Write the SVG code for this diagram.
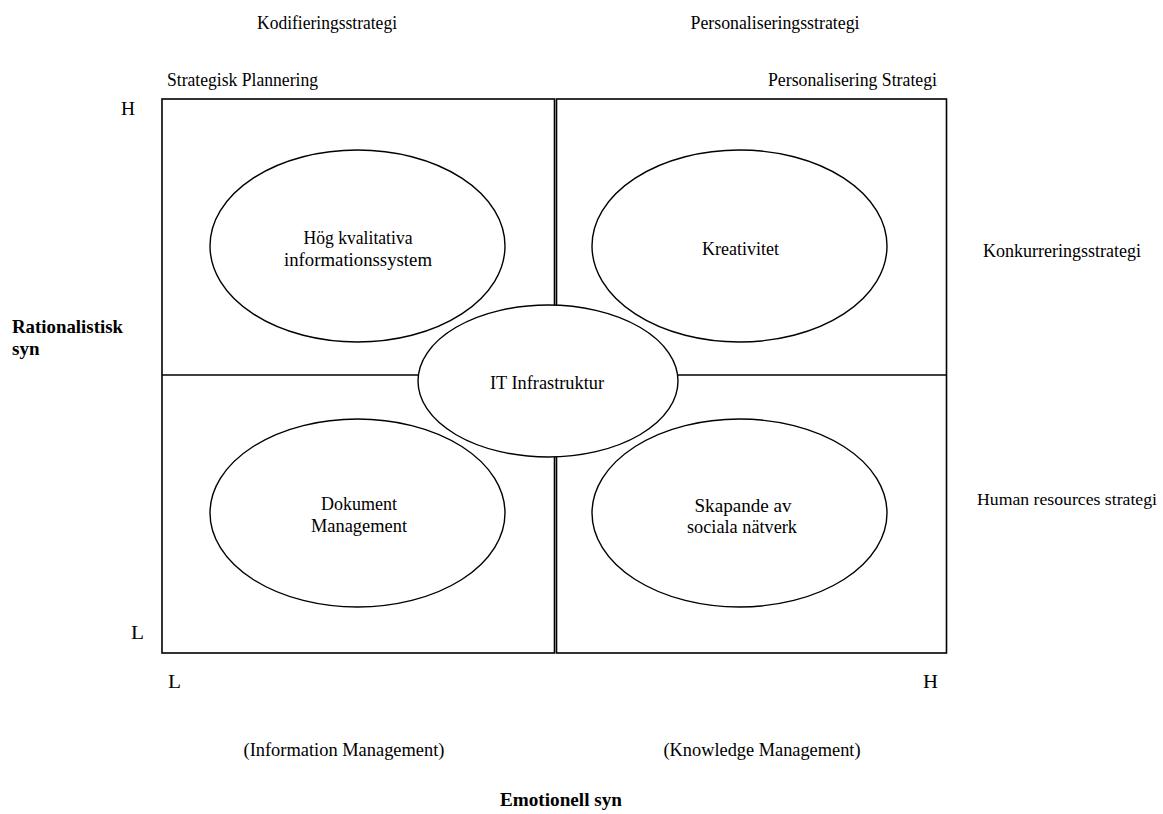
<svg xmlns="http://www.w3.org/2000/svg" width="1163" height="814" viewBox="0 0 1163 814">
  <style>
    text { font-family: "Liberation Serif", "Times New Roman", serif; font-size: 19px; fill: #000; }
    .c { text-anchor: middle; }
    .b { font-weight: bold; }
    .frame { fill: none; stroke: #000; stroke-width: 1.6; }
    .node { fill: #fff; stroke: #000; stroke-width: 1.4; }
  </style>
  <rect width="1163" height="814" fill="#fff"/>

  <!-- column headings -->
  <g id="headings">
    <text x="327" y="29" class="c" textLength="140" lengthAdjust="spacingAndGlyphs">Kodifieringsstrategi</text>
    <text x="775" y="29" class="c" textLength="169" lengthAdjust="spacingAndGlyphs">Personaliseringsstrategi</text>
    <text x="167" y="86" textLength="151" lengthAdjust="spacingAndGlyphs">Strategisk Plannering</text>
    <text x="937" y="86" text-anchor="end" textLength="169" lengthAdjust="spacingAndGlyphs">Personalisering Strategi</text>
  </g>

  <!-- row headings and axis marks -->
  <g id="axis-labels">
    <text x="121" y="115" textLength="14" lengthAdjust="spacingAndGlyphs">H</text>
    <text x="131" y="639" textLength="13" lengthAdjust="spacingAndGlyphs">L</text>
    <text x="168" y="688" textLength="13" lengthAdjust="spacingAndGlyphs">L</text>
    <text x="923" y="688" textLength="15" lengthAdjust="spacingAndGlyphs">H</text>
    <text x="983" y="257" textLength="158" lengthAdjust="spacingAndGlyphs">Konkurreringsstrategi</text>
    <text x="977" y="505" style="font-size:17.6px" textLength="180" lengthAdjust="spacingAndGlyphs">Human resources strategi</text>
    <text x="344" y="756" class="c" textLength="201" lengthAdjust="spacingAndGlyphs">(Information Management)</text>
    <text x="762" y="756" class="c" textLength="197" lengthAdjust="spacingAndGlyphs">(Knowledge Management)</text>
    <text x="12" y="333" class="b" textLength="111" lengthAdjust="spacingAndGlyphs">Rationalistisk</text>
    <text x="12" y="355" class="b">syn</text>
    <text x="561" y="806" class="c b" textLength="122" lengthAdjust="spacingAndGlyphs">Emotionell syn</text>
  </g>

  <!-- quadrant frame: two side-by-side panels split at mid height -->
  <g id="connectors">
    <rect class="frame" x="162" y="99" width="392.5" height="554"/>
    <rect class="frame" x="556.5" y="99" width="390" height="554"/>
    <line class="frame" x1="162" y1="375" x2="554.5" y2="375"/>
    <line class="frame" x1="556.5" y1="375" x2="946.5" y2="375"/>
  </g>

  <g id="node-hog-kvalitativa">
    <ellipse class="node" cx="357.5" cy="246" rx="147.5" ry="96"/>
    <text x="358" y="244" class="c" textLength="109" lengthAdjust="spacingAndGlyphs">Hög kvalitativa</text>
    <text x="358" y="266" class="c" textLength="148" lengthAdjust="spacingAndGlyphs">informationssystem</text>
  </g>

  <g id="node-kreativitet">
    <ellipse class="node" cx="739.5" cy="246" rx="147.5" ry="96"/>
    <text x="740.5" y="255" class="c" textLength="77" lengthAdjust="spacingAndGlyphs">Kreativitet</text>
  </g>

  <g id="node-dokument">
    <ellipse class="node" cx="357.5" cy="513" rx="147.5" ry="94"/>
    <text x="359" y="510" class="c" textLength="76" lengthAdjust="spacingAndGlyphs">Dokument</text>
    <text x="359" y="532" class="c" textLength="96" lengthAdjust="spacingAndGlyphs">Management</text>
  </g>

  <g id="node-sociala-natverk">
    <ellipse class="node" cx="739.5" cy="513" rx="147.5" ry="94"/>
    <text x="743" y="512" class="c" textLength="97" lengthAdjust="spacingAndGlyphs">Skapande av</text>
    <text x="742" y="533" class="c" textLength="110" lengthAdjust="spacingAndGlyphs">sociala nätverk</text>
  </g>

  <g id="node-it-infrastruktur">
    <ellipse class="node" cx="548" cy="381" rx="130" ry="76"/>
    <text x="547" y="389" class="c" textLength="114" lengthAdjust="spacingAndGlyphs">IT Infrastruktur</text>
  </g>
</svg>
